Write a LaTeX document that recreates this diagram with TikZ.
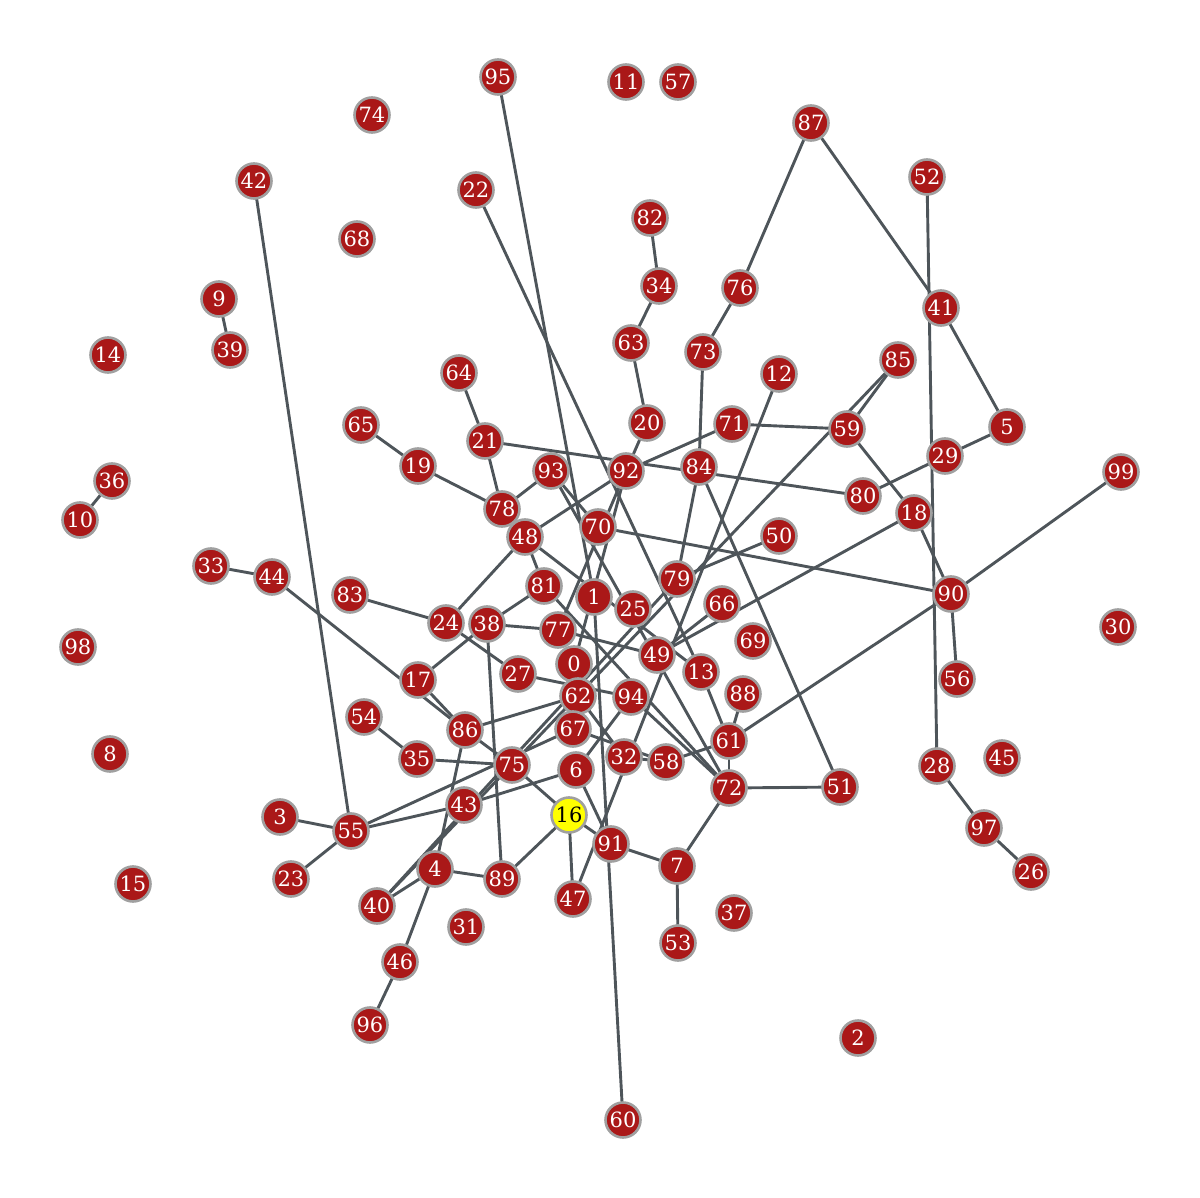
\documentclass[tikz,border=0pt]{standalone}
\usepackage{fontspec}
\setmainfont{DejaVu Serif}
\definecolor{nodered}{RGB}{170,24,24}
\definecolor{nodeborder}{RGB}{160,160,160}
\definecolor{edgegray}{RGB}{78,85,90}
\definecolor{hilite}{RGB}{255,255,0}
\pgfdeclarelayer{bg}
\pgfsetlayers{bg,main}
\begin{document}
\begin{tikzpicture}[x=0.5pt,y=-0.5pt,
  vtx/.style={circle,draw=nodeborder,fill=nodered,line width=1.3pt,minimum size=17.5pt,inner sep=0pt,text=white,font=\fontsize{10.5}{12}\selectfont},
  hvtx/.style={vtx,fill=hilite,text=black},
  edge/.style={draw=edgegray,line width=1.45pt}]
\useasboundingbox (0,0) rectangle (1200,1198);
\foreach \n/\x/\y in {0/574/664,1/594/597,2/858/1038,3/280/817,4/435/869,5/1007/427,6/576/770,7/677/866,8/110/754,9/219/299,10/80/520,11/626/82,12/779/374,13/701/672,14/108/355,15/133/884,17/418/680,18/914/513,19/418/466,20/647/423,21/485/441,22/476/190,23/291/879,24/446/623,25/633/609,26/1031/872,27/518/674,28/937/766,29/945/456,30/1118/627,31/466/927,32/624/757,33/211/566,34/659/286,35/417/759,36/112/481,37/734/913,38/487/624,39/230/350,40/377/906,41/941/308,42/254/181,43/464/805,44/272/577,45/1002/758,46/400/962,47/573/899,48/525/537,49/657/655,50/779/536,51/840/787,52/927/177,53/678/943,54/364/717,55/351/831,56/957/679,57/678/82,58/666/762,59/847/429,60/623/1120,61/729/741,62/578/696,63/631/343,64/459/373,65/361/425,66/722/604,67/573/729,68/357/239,69/753/641,70/598/527,71/732/424,72/729/788,73/703/352,74/372/115,75/512/765,76/740/288,77/558/630,78/502/509,79/677/579,80/863/496,81/544/586,82/650/218,83/350/595,84/699/467,85/898/360,86/465/730,87/811/123,88/743/694,89/502/879,90/951/594,91/611/844,92/626/471,93/551/471,94/631/697,95/498/77,96/370/1025,97/984/828,98/78/647,99/1121/472}
  {\node[vtx] (n\n) at (\x,\y) {\n};}
\node[hvtx] (n16) at (569,815) {16};
\begin{pgfonlayer}{bg}
\foreach \a/\b in {9/39,10/36,33/44,44/86,17/86,17/38,42/55,3/55,23/55,43/55,55/67,54/35,35/75,86/75,86/62,86/4,4/40,4/89,4/46,46/96,38/89,75/16,16/89,16/47,16/91,6/91,43/6,91/7,7/53,7/72,72/51,72/61,61/88,61/13,61/58,61/90,32/58,67/58,62/32,6/94,94/72,27/94,24/27,24/83,48/24,48/81,48/13,92/48,81/38,81/72,95/1,1/60,93/70,93/72,93/78,92/77,92/0,38/77,77/49,66/49,12/47,18/49,40/79,40/85,85/59,59/18,71/59,71/92,18/90,90/99,90/56,70/90,79/50,84/79,73/84,84/51,21/80,21/64,21/78,19/78,19/65,20/92,20/63,63/34,34/82,73/76,76/87,87/41,41/5,5/29,29/80,52/28,28/97,97/26,22/13}
  {\draw[edge] (n\a.center) -- (n\b.center);}
\end{pgfonlayer}
\end{tikzpicture}
\end{document}
